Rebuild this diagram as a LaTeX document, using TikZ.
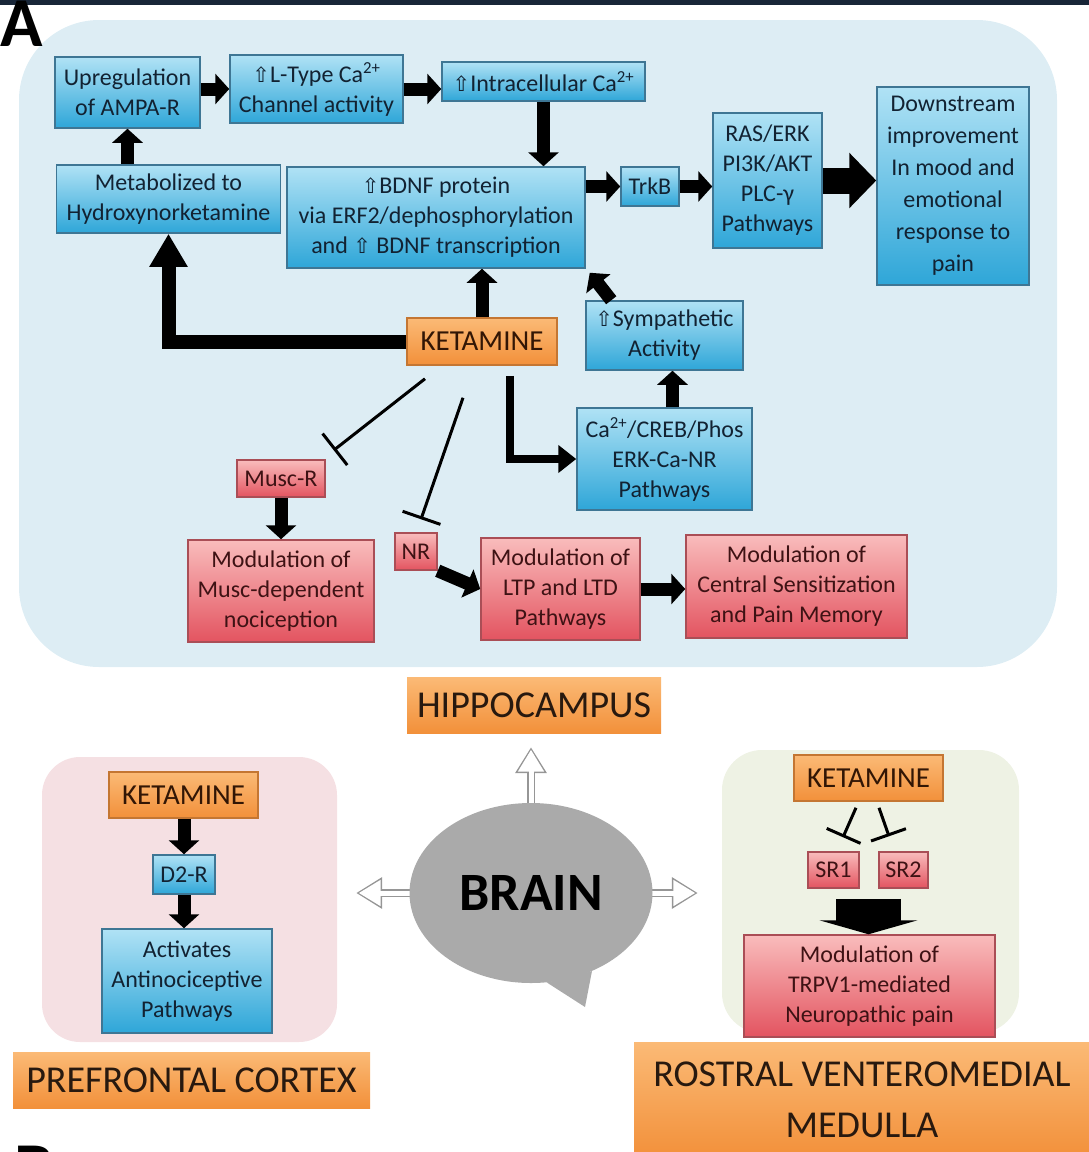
\documentclass[tikz,border=0pt]{standalone}
\usepackage{fontspec}
\setmainfont{Carlito}
\newfontfamily\arrowfont{DejaVu Sans}
\usetikzlibrary{arrows.meta,shapes.geometric,calc}

\definecolor{navybar}{RGB}{24,38,56}
\definecolor{hippofill}{RGB}{221,237,244}
\definecolor{pfcfill}{RGB}{245,224,227}
\definecolor{rvmfill}{RGB}{238,242,228}
\definecolor{bluetop}{RGB}{176,226,245}
\definecolor{bluebot}{RGB}{46,166,216}
\definecolor{blueline}{RGB}{62,118,148}
\definecolor{bluetext}{RGB}{18,34,50}
\definecolor{pinktop}{RGB}{249,188,188}
\definecolor{pinkbot}{RGB}{227,84,96}
\definecolor{pinkline}{RGB}{170,78,86}
\definecolor{pinktext}{RGB}{62,18,20}
\definecolor{orangetop}{RGB}{251,186,118}
\definecolor{orangebot}{RGB}{242,144,58}
\definecolor{orangeline}{RGB}{196,118,50}
\definecolor{orangetext}{RGB}{50,22,5}
\definecolor{labeltext}{RGB}{40,25,15}
\definecolor{braingray}{RGB}{170,170,170}
\definecolor{arrowgray}{RGB}{150,150,150}

\newcommand{\boxfont}{\fontsize{24}{30}\selectfont}
\newcommand{\ketafont}{\fontsize{29}{34}\selectfont}
\newcommand{\labelfont}{\fontsize{38}{51}\selectfont}
\newcommand{\brainfont}{\bfseries\fontsize{54}{60}\selectfont}
\newcommand{\letterfont}{\bfseries\fontsize{70}{70}\selectfont}
\newcommand{\incr}{{\arrowfont\fontsize{21}{21}\selectfont ⇧}}

\begin{document}
\begin{tikzpicture}[x=1pt, y=-1pt,
	every node/.style={text centered, inner sep=0pt},
	dims/.style 2 args={minimum width=#1pt, minimum height=#2pt},
	panel/.style={rectangle, draw=none},
	bluebox/.style={rectangle, draw=blueline, line width=1.5pt, top color=bluetop, bottom color=bluebot,
		text=bluetext, align=center, font=\boxfont},
	pinkbox/.style={rectangle, draw=pinkline, line width=1.5pt, top color=pinktop, bottom color=pinkbot,
		text=pinktext, align=center, font=\boxfont},
	ketabox/.style={rectangle, draw=orangeline, line width=1.5pt, top color=orangetop, bottom color=orangebot,
		text=orangetext, font=\ketafont},
	regionlabel/.style={rectangle, top color=orangetop, bottom color=orangebot, text=labeltext,
		align=center, font=\labelfont},
	fat/.style={line width=13pt, -{Triangle[length=14pt,width=30pt]}},
	bigfat/.style={line width=14pt, -{Triangle[length=33pt,width=36pt]}},
	hugefat/.style={line width=26pt, -{Triangle[length=27pt,width=54pt]}},
	thinarrow/.style={line width=8pt, -{Triangle[length=18pt,width=27pt]}},
	inhibit/.style={line width=3pt, -{Bar[width=40pt]}},
	hollowout/.style={draw=arrowgray, line width=8pt, -{Triangle[length=26pt,width=30pt]}},
	hollowin/.style={draw=white, line width=5pt, -{Triangle[length=22pt,width=25pt]}}
]
\useasboundingbox (0,0) rectangle (1089,1152);
\fill[navybar] (0,0) rectangle (1089,5);

% region panels
\node[panel, fill=hippofill, rounded corners=80pt, dims={1038}{647}] (hippobox) at (538,343.5) {};
\node[panel, fill=pfcfill, rounded corners=38pt, dims={295}{285}] (pfcbox) at (189.5,899.5) {};
\node[panel, fill=rvmfill, rounded corners=40pt, dims={297}{283}] (rvmbox) at (870.5,891.5) {};

\node[anchor=base east, font=\letterfont] (letterA) at (43,46) {A};
\node[anchor=north west, font=\letterfont] (letterB) at (14,1146) {B};

% region labels
\node[regionlabel, dims={254}{56}] (hippolabel) at (534,705) {HIPPOCAMPUS};
\node[regionlabel, dims={357}{56}] (pfclabel) at (191.5,1080) {PREFRONTAL CORTEX};
\node[regionlabel, dims={456}{116}] (rvmlabel) at (862,1100) {ROSTRAL VENTEROMEDIAL\\MEDULLA};

% brain and its hollow arrows
\coordinate (braincentre) at (531,893);
\draw[hollowout, shorten >=14pt] (braincentre) -- (braincentre |- hippolabel.south);
\draw[hollowin, shorten >=16.5pt] (braincentre) -- (braincentre |- hippolabel.south);
\draw[hollowout, shorten >=19pt] (braincentre) -- (braincentre -| pfcbox.east);
\draw[hollowin, shorten >=21.5pt] (braincentre) -- (braincentre -| pfcbox.east);
\draw[hollowout, shorten >=24pt] (braincentre) -- (braincentre -| rvmbox.west);
\draw[hollowin, shorten >=26.5pt] (braincentre) -- (braincentre -| rvmbox.west);
\node[ellipse, fill=braingray, dims={243}{180}, font=\brainfont] (brain) at (braincentre) {BRAIN};
\fill[braingray] (brain.-80) -- (585,1007) -- (brain.-52) -- cycle;

% hippocampus
\node[bluebox, dims={145}{71}] (upreg) at (127.5,92.5) {Upregulation\\of AMPA-R};
\node[bluebox, dims={173}{68}] (ltype) at (316.5,89) {\incr L-Type Ca\textsuperscript{2+}\\Channel activity};
\node[bluebox, dims={203}{39}] (intra) at (543.5,81.5) {\incr Intracellular Ca\textsuperscript{2+}};
\node[bluebox, dims={224}{68}] (metab) at (168.5,199) {Metabolized to\\Hydroxynorketamine};
\node[bluebox, dims={298}{101}] (bdnf) at (436,217.5)
	{\incr BDNF protein\\via ERF2/dephosphorylation\\and \incr\ BDNF transcription};
\node[bluebox, dims={58}{39}] (trkb) at (650,186.5) {TrkB};
\node[bluebox, dims={109}{135}] (ras) at (767.5,180.5) {RAS/ERK\\PI3K/AKT\\PLC-γ\\Pathways};
\node[bluebox, dims={152}{198}, font=\fontsize{24}{32}\selectfont] (down) at (953,186)
	{Downstream\\improvement\\In mood and\\emotional\\response to\\pain};
\node[ketabox, dims={150}{47}] (keta) at (482,341.5) {KETAMINE};
\node[bluebox, dims={157}{69}] (symp) at (664.5,335.5) {\incr Sympathetic\\Activity};
\node[bluebox, dims={175}{102}] (creb) at (664.5,459) {Ca\textsuperscript{2+}/CREB/Phos\\ERK-Ca-NR\\Pathways};
\node[pinkbox, dims={88}{37}] (muscr) at (281,478.5) {Musc-R};
\node[pinkbox, dims={42}{37}] (nr) at (416,551.5) {NR};
\node[pinkbox, dims={186}{102}] (modmusc) at (281,591) {Modulation of\\Musc-dependent\\nociception};
\node[pinkbox, dims={159}{102}] (modltp) at (560.5,589) {Modulation of\\LTP and LTD\\Pathways};
\node[pinkbox, dims={221}{103}] (modcent) at (796.5,586.5)
	{Modulation of\\Central Sensitization\\and Pain Memory};

\draw[fat] (upreg.east |- ltype.west) -- (ltype.west);
\draw[fat] (ltype.east) -- (ltype.east -| intra.west);
\draw[fat] (intra.south) -- (intra.south |- bdnf.north);
\draw[fat] (upreg.south |- metab.north) -- (upreg.south);
\draw[fat] (bdnf.east |- trkb.west) -- (trkb.west);
\draw[fat] (trkb.east) -- (trkb.east -| ras.west);
\draw[hugefat] (ras.east) -- (ras.east -| down.west);
\draw[bigfat] (keta.west) -| (metab.south);
\draw[fat] (keta.north) -- (keta.north |- bdnf.south);
\draw[fat] ([xshift=26pt]symp.north west) -- ([xshift=4pt,yshift=-4pt]bdnf.south east);
\draw[fat] ([xshift=8pt]creb.north) -- ([xshift=8pt]symp.south);
\draw[thinarrow] ([xshift=28pt,yshift=-10pt]keta.south) |- (creb.west);
\draw[inhibit] ([xshift=-57pt,yshift=-13pt]keta.south) -- ([xshift=8pt,yshift=9pt]muscr.north east);
\draw[inhibit] ([xshift=-19pt,yshift=-32pt]keta.south) -- ([xshift=5pt,yshift=13pt]nr.north);
\draw[fat] (muscr.south) -- (modmusc.north);
\draw[fat] (nr.south east) -- (modltp.west);
\draw[fat] (modltp.east) -- (modltp.east -| modcent.west);

% prefrontal cortex
\node[ketabox, dims={149}{46}] (pketa) at (183.5,795) {KETAMINE};
\node[bluebox, dims={62}{39}] (d2r) at (184,874.5) {D2-R};
\node[bluebox, dims={170}{104}] (activ) at (187,981) {Activates\\Antinociceptive\\Pathways};
\draw[fat] (d2r.north |- pketa.south) -- (d2r.north);
\draw[fat] (d2r.south) -- (d2r.south |- activ.north);

% rostral ventromedial medulla
\node[ketabox, dims={149}{46}] (rketa) at (868.5,778) {KETAMINE};
\node[pinkbox, dims={51}{36}] (sr1) at (833.5,870) {SR1};
\node[pinkbox, dims={49}{36}] (sr2) at (903.5,870) {SR2};
\node[pinkbox, dims={251}{102}] (trpv) at (869.5,986) {Modulation of\\TRPV1-mediated\\Neuropathic pain};
\draw[inhibit, -{Bar[width=37pt]}] ([xshift=-12.5pt,yshift=-6pt]rketa.south) -- ([xshift=9.5pt,yshift=14pt]sr1.north);
\draw[inhibit, -{Bar[width=37pt]}] ([xshift=10.5pt,yshift=-6pt]rketa.south) -- ([xshift=-14.5pt,yshift=15pt]sr2.north);
\coordinate (srbase) at ($(sr1.south)!0.5!(sr2.south)+(0,10)$);
\draw[line width=65pt, -{Triangle[length=14pt,width=98pt]}] (srbase) -- (srbase |- trpv.north);
\end{tikzpicture}
\end{document}
